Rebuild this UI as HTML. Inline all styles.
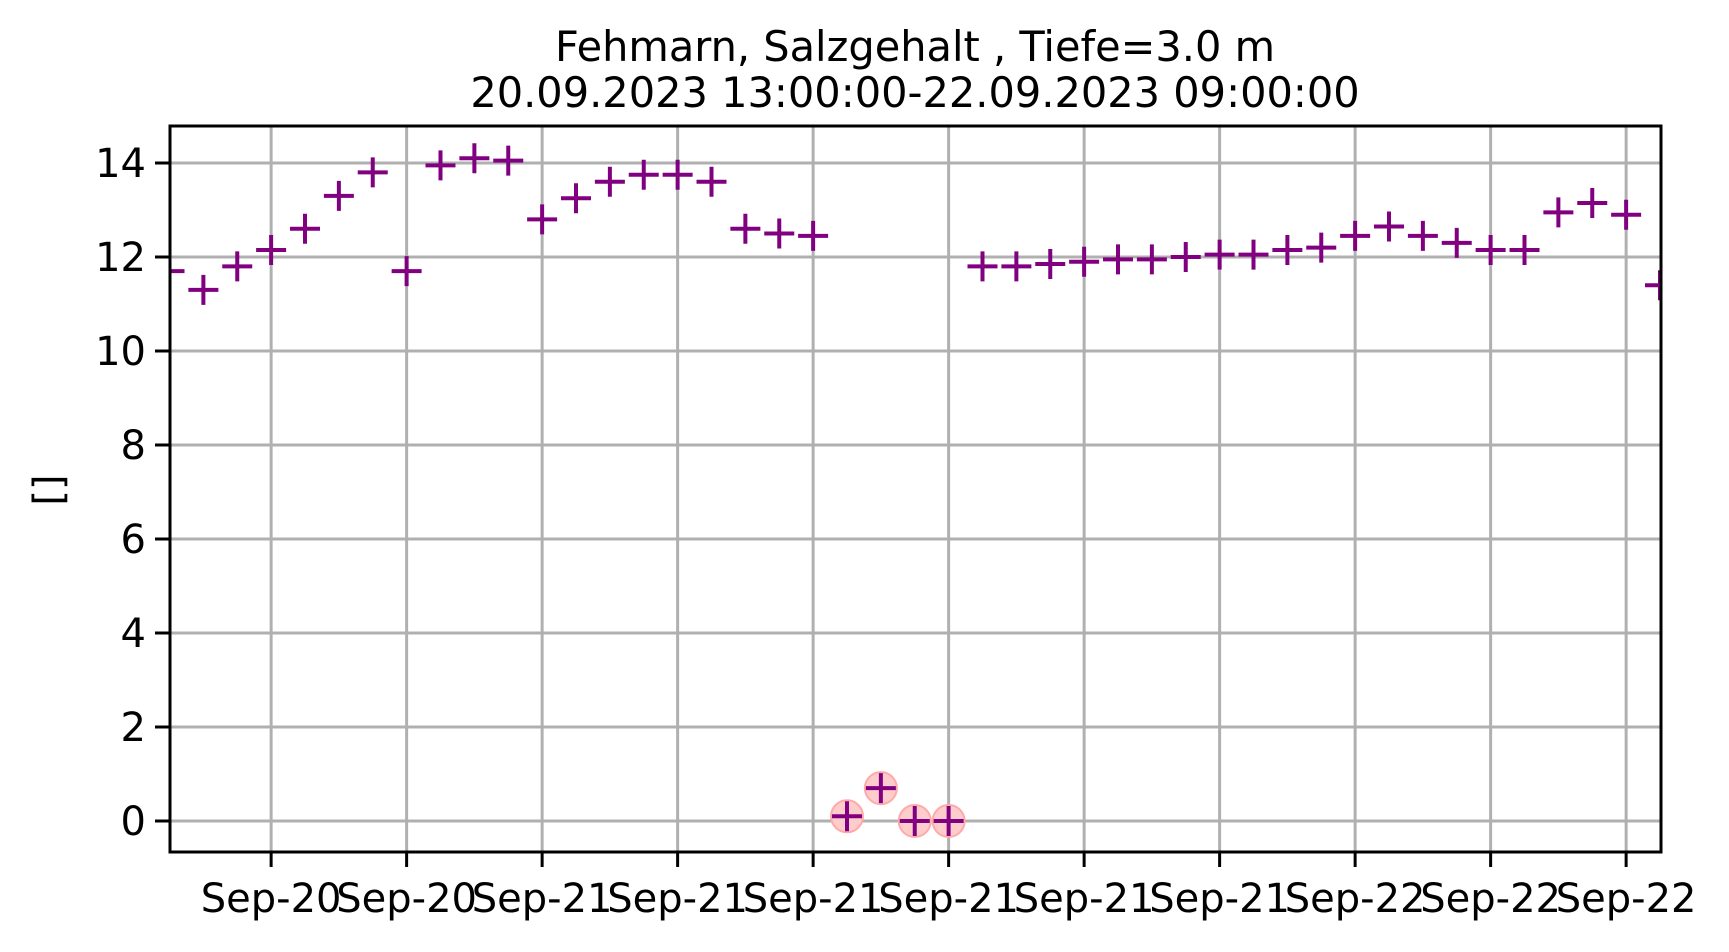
<!DOCTYPE html>
<html><head><meta charset="utf-8"><style>
html,body{margin:0;padding:0;background:#fff;}
svg{display:block;font-family:"DejaVu Sans","Liberation Sans",sans-serif;}
</style></head><body>
<svg id="chart" width="1729" height="952" viewBox="0 0 1729 952" xmlns="http://www.w3.org/2000/svg">
<defs><clipPath id="clip"><rect x="170" y="126" width="1491" height="726"/></clipPath></defs>
<text x="915" y="61" font-size="41.5" text-anchor="middle">Fehmarn, Salzgehalt , Tiefe=3.0 m</text>
<text x="915" y="107" font-size="41.5" text-anchor="middle">20.09.2023 13:00:00-22.09.2023 09:00:00</text>
<text x="0" y="0" font-size="40" text-anchor="middle" transform="translate(62,490) rotate(-90)">[]</text>
<g id="grid"></g>
<g id="marks" clip-path="url(#clip)"></g>
<rect x="170" y="126" width="1491" height="726" fill="none" stroke="#000" stroke-width="3"/>
<g id="axes"></g>
</svg>
<script>
const values = [11.7,11.3,11.8,12.15,12.6,13.3,13.8,11.7,13.95,14.1,14.05,12.8,13.25,13.6,13.75,13.75,13.6,12.6,12.5,12.45,0.1,0.7,0.0,0.0,11.8,11.8,11.85,11.9,11.95,11.95,12.0,12.05,12.05,12.15,12.2,12.45,12.65,12.45,12.3,12.15,12.15,12.95,13.15,12.9,11.4];
const flagged = [20,21,22,23];
const yTicks = [0,2,4,6,8,10,12,14];
const xTickHours = [3,7,11,15,19,23,27,31,35,39,43];
const xTickLabels = ["Sep-20","Sep-20","Sep-21","Sep-21","Sep-21","Sep-21","Sep-21","Sep-21","Sep-22","Sep-22","Sep-22"];
const NS="http://www.w3.org/2000/svg";
const L=170,R=1661,T=126,B=852;
const x=h=>169.5+h*(1660-169.5)/44;
const y=v=>821-v*47;
function mk(tag,attrs,parent){const e=document.createElementNS(NS,tag);for(const k in attrs)e.setAttribute(k,attrs[k]);parent.appendChild(e);return e;}
const grid=document.getElementById('grid'),marks=document.getElementById('marks'),axes=document.getElementById('axes');
yTicks.forEach(v=>{
  const g=mk('line',{x1:L,x2:R,y1:y(v),y2:y(v),stroke:'#b0b0b0','stroke-width':3},grid);
  
  
  const t=mk('line',{x1:L-15,x2:L,y1:y(v),y2:y(v),stroke:'#000','stroke-width':3},axes);
  
  
  const lb=mk('text',{x:L-24,y:y(v)+14,'font-size':40,'text-anchor':'end'},axes);
  lb.textContent=v;
  
  
});
xTickHours.forEach((h,i)=>{
  const g=mk('line',{x1:x(h),x2:x(h),y1:T,y2:B,stroke:'#b0b0b0','stroke-width':3},grid);
  
  
  const t=mk('line',{x1:x(h),x2:x(h),y1:B,y2:B+15,stroke:'#000','stroke-width':3},axes);
  
  
  const lb=mk('text',{x:x(h),y:912,'font-size':40,'text-anchor':'middle'},axes);
  lb.textContent=xTickLabels[i];
  
  
});
flagged.forEach(i=>{
  const c=mk('circle',{cx:x(i),cy:y(values[i]),r:16,fill:'#ffcccc',stroke:'#ffaaaa','stroke-width':2},marks);
  
  
});
values.forEach((v,i)=>{
  const p=mk('path',{d:`M${x(i)-15},${y(v)}H${x(i)+15}M${x(i)},${y(v)-15}V${y(v)+15}`,stroke:'#800080','stroke-width':4,fill:'none'},marks);
  
  
});
</script>
</body></html>
